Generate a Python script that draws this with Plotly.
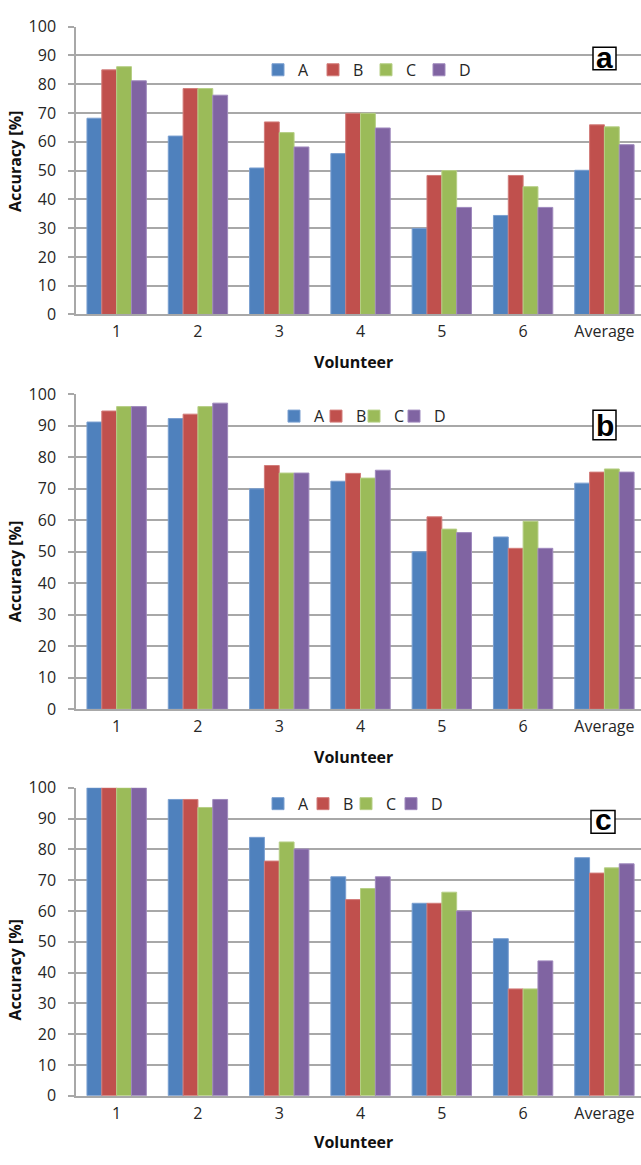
import plotly.graph_objects as go

# Categories and series
volunteers = ["1", "2", "3", "4", "5", "6", "Average"]
series_names = ["A", "B", "C", "D"]

# Accuracy [%] per volunteer, panel a
acc_a_A = [68.2, 62.0, 50.9, 55.9, 29.9, 34.4, 50.1]
acc_a_B = [85.0, 78.5, 66.9, 69.9, 48.3, 48.3, 65.9]
acc_a_C = [86.1, 78.5, 63.2, 69.9, 50.0, 44.4, 65.2]
acc_a_D = [81.2, 76.2, 58.2, 64.8, 37.2, 37.2, 59.0]

# Accuracy [%] per volunteer, panel b
acc_b_A = [91.2, 92.3, 70.0, 72.4, 50.0, 54.7, 71.8]
acc_b_B = [94.7, 93.7, 77.4, 74.9, 61.1, 51.1, 75.3]
acc_b_C = [96.1, 96.1, 75.0, 73.4, 57.2, 59.7, 76.3]
acc_b_D = [96.1, 97.2, 75.0, 75.9, 56.1, 51.1, 75.3]

# Accuracy [%] per volunteer, panel c
acc_c_A = [100.0, 96.2, 83.9, 71.1, 62.5, 51.0, 77.3]
acc_c_B = [100.0, 96.2, 76.2, 63.7, 62.5, 34.7, 72.3]
acc_c_C = [100.0, 93.6, 82.4, 67.3, 66.1, 34.7, 74.0]
acc_c_D = [100.0, 96.2, 80.1, 71.1, 60.0, 43.8, 75.3]

y_ticks = [0, 10, 20, 30, 40, 50, 60, 70, 80, 90, 100]
panel_labels = ["a", "b", "c"]

W, H = 641, 1165
colors = ["#4F81BD", "#C0504D", "#9BBB59", "#8064A2"]
edges = ["#7A9FD0", "#D27C7A", "#B6CF86", "#9F89BD"]
grid = "#A8A8A8"
font_main = "Open Sans"
txt = "#262626"


def px_y(p):
    return 1 - p / H


def px_x(p):
    return p / W


panels = [
    dict(data=[acc_a_A, acc_a_B, acc_a_C, acc_a_D], top=16.0, bottom=309.3,
         legend_y=60, legend_sym=[282, 337, 390, 443], ytitle=154, xtitle=358,
         box=(593, 37, 616, 60), label_y=47),
    dict(data=[acc_b_A, acc_b_B, acc_b_C, acc_b_D], top=390.7, bottom=711.7,
         legend_y=413, legend_sym=[298, 340, 378, 418], ytitle=572, xtitle=760,
         box=(593, 407, 616, 437), label_y=422),
    dict(data=[acc_c_A, acc_c_B, acc_c_C, acc_c_D], top=791.7, bottom=1105.7,
         legend_y=808, legend_sym=[282, 327, 370, 415], ytitle=978, xtitle=1153,
         box=(591, 815, 615, 838), label_y=824.5),
]

fig = go.Figure()
layout = dict(
    width=W, height=H, margin=dict(l=0, r=0, t=0, b=0),
    paper_bgcolor="white", plot_bgcolor="white",
    barmode="group", bargap=0.27, bargroupgap=0.0,
    font=dict(family=font_main, size=16, color=txt),
    showlegend=True,
    annotations=[], shapes=[],
)

leg_index = 0
for i, p in enumerate(panels):
    k = "" if i == 0 else str(i + 1)
    for j, name in enumerate(series_names):
        leg_index += 1
        leg = "legend" if leg_index == 1 else "legend%d" % leg_index
        fig.add_trace(go.Bar(
            x=volunteers, y=p["data"][j], name=name,
            xaxis="x" + k, yaxis="y" + k, legend=leg, showlegend=True,
            marker=dict(color=colors[j], line=dict(color=edges[j], width=1)),
        ))
        # one key per series so each entry sits where it belongs
        layout[leg] = dict(
            orientation="h", x=px_x(p["legend_sym"][j] - 24), y=px_y(p["legend_y"]),
            xanchor="left", yanchor="middle", visible=True,
            bgcolor="rgba(0,0,0,0)", borderwidth=0,
            font=dict(family=font_main, size=16, color=txt),
            itemclick=False,
        )
    layout["xaxis" + k] = dict(
        domain=[px_x(76), 1.0], anchor="y" + k,
        range=[-0.5, 6.45], type="category",
        showline=True, linecolor=grid, linewidth=1.5,
        showgrid=False, ticks="", ticklabelstandoff=2,
        tickfont=dict(family=font_main, size=16, color=txt),
    )
    layout["yaxis" + k] = dict(
        domain=[px_y(p["bottom"]), px_y(p["top"])], anchor="x" + k,
        range=[0, 100], tickvals=y_ticks,
        showline=True, linecolor=grid, linewidth=1.5,
        showgrid=True, gridcolor=grid, gridwidth=1.5,
        ticks="outside", ticklen=6, tickcolor=grid, tickwidth=1.5,
        ticklabelstandoff=9,
        tickfont=dict(family=font_main, size=16, color=txt),
    )
    # Axis titles
    layout["annotations"].append(dict(
        text="<b>Accuracy [%]</b>", x=px_x(15), y=px_y(p["ytitle"]),
        xref="paper", yref="paper", textangle=-90, showarrow=False,
        font=dict(family=font_main, size=16, color="#111111"),
        xanchor="center", yanchor="middle",
    ))
    layout["annotations"].append(dict(
        text="<b>Volunteer</b>", x=px_x(353), y=px_y(p["xtitle"]),
        xref="paper", yref="paper", showarrow=False,
        font=dict(family=font_main, size=16, color="#111111"),
        xanchor="center", yanchor="middle",
    ))
    # Panel letter in a framed box
    x0, y0, x1, y1 = p["box"]
    layout["shapes"].append(dict(
        type="rect", xref="paper", yref="paper",
        x0=px_x(x0), x1=px_x(x1), y0=px_y(y1), y1=px_y(y0),
        line=dict(color="black", width=1.5), fillcolor="white", layer="above",
    ))
    layout["annotations"].append(dict(
        text="<b>%s</b>" % panel_labels[i], x=px_x((x0 + x1) / 2),
        y=px_y(p["label_y"]), xref="paper", yref="paper", showarrow=False,
        font=dict(family="Liberation Sans", size=30, color="black"),
        xanchor="center", yanchor="middle",
    ))

fig.update_layout(**layout)
fig.write_html("out.html")
